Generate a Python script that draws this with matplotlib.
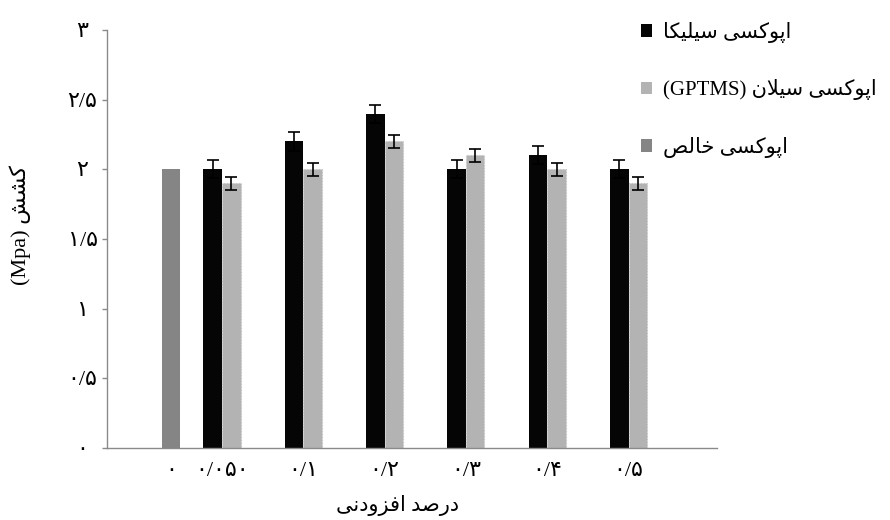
import numpy as np
import matplotlib
matplotlib.use("Agg")
import matplotlib.pyplot as plt
from matplotlib.patches import Patch

# tensile strength (MPa) vs. additive percentage
x_labels = ["۰", "۰/۰۵۰", "۰/۱", "۰/۲", "۰/۳", "۰/۴", "۰/۵"]
pure_value = 2.0
silica = [2.0, 2.2, 2.4, 2.0, 2.1, 2.0]
silica_err = [0.065, 0.065, 0.065, 0.065, 0.065, 0.065]
silane = [1.9, 2.0, 2.2, 2.1, 2.0, 1.9]
silane_err = [0.048, 0.048, 0.048, 0.048, 0.048, 0.048]

y_ticks = [0, 0.5, 1, 1.5, 2, 2.5, 3]
y_ticklabels = ["۰", "۰/۵", "۱", "۱/۵", "۲", "۲/۵", "۳"]

legend_labels = ["اپوکسی سیلیکا", "اپوکسی سیلان (GPTMS)", "اپوکسی خالص"]
COLORS = {"silica": "#050505", "silane": "#b3b3b3", "pure": "#858585"}

# group positions along the x axis (the neat epoxy bar sits close to the first group)
positions = np.array([0.37, 1, 2, 3, 4, 5, 6])
bar_w = 0.228

FAMILY = ["Liberation Serif", "DejaVu Sans"]

# matplotlib does no Arabic shaping, so join letters by hand with presentation forms
FORMS = {
    # isolated, final, initial, medial
    "ا": "\uFE8D\uFE8E",
    "د": "\uFEA9\uFEAA",
    "ر": "\uFEAD\uFEAE",
    "ز": "\uFEAF\uFEB0",
    "و": "\uFEED\uFEEE",
    "پ": "\uFB56\uFB57\uFB58\uFB59",
    "خ": "\uFEA5\uFEA6\uFEA7\uFEA8",
    "س": "\uFEB1\uFEB2\uFEB3\uFEB4",
    "ش": "\uFEB5\uFEB6\uFEB7\uFEB8",
    "ص": "\uFEB9\uFEBA\uFEBB\uFEBC",
    "ف": "\uFED1\uFED2\uFED3\uFED4",
    "ک": "\uFB8E\uFB8F\uFB90\uFB91",
    "ل": "\uFEDD\uFEDE\uFEDF\uFEE0",
    "ن": "\uFEE5\uFEE6\uFEE7\uFEE8",
    "ی": "\uFBFC\uFBFD\uFBFE\uFBFF",
}
LAM_ALEF = "\uFEFB"


def shape_word(word):
    word = word.replace("لا", LAM_ALEF)
    out = []
    for i, ch in enumerate(word):
        prev = word[i - 1] if i else ""
        nxt = word[i + 1] if i + 1 < len(word) else ""
        joins_prev = len(FORMS.get(prev, "")) == 4
        if ch == LAM_ALEF:
            out.append("\uFEFC" if joins_prev else ch)
            continue
        forms = FORMS.get(ch)
        if forms is None:
            out.append(ch)
            continue
        joins_next = len(forms) == 4 and (nxt in FORMS or nxt == LAM_ALEF)
        idx = {(False, False): 0, (True, False): 1, (False, True): 2, (True, True): 3}[(joins_prev, joins_next)]
        out.append(forms[idx])
    return "".join(out)


def rtl(text):
    words = []
    for w in text.split(" "):
        if any(c in FORMS for c in w):
            words.append(shape_word(w)[::-1])
        else:
            words.append(w)
    return " ".join(reversed(words))


fig = plt.figure(figsize=(8.9, 5.2), dpi=100)
ax = fig.add_axes([107 / 890, 72 / 520, 610 / 890, 418 / 520])

err_kw = dict(ecolor="black", elinewidth=1.2, capsize=4, capthick=1.2)
ax.bar(positions[0], pure_value, bar_w, color=COLORS["pure"])
ax.bar(positions[1:] - bar_w / 2, silica, bar_w, yerr=silica_err, color=COLORS["silica"],
       error_kw=err_kw)
ax.bar(positions[1:] + bar_w / 2, silane, bar_w, yerr=silane_err, color=COLORS["silane"],
       edgecolor="#c4c4c4", linewidth=0.8, linestyle=":", error_kw=err_kw)

ax.set_xlim(-0.4145, 7.088)
ax.set_ylim(0, 3)

for s in ["top", "right"]:
    ax.spines[s].set_visible(False)
for s in ["left", "bottom"]:
    ax.spines[s].set_color("#8a8a8a")
    ax.spines[s].set_linewidth(1.0)

ax.set_xticks(positions)
ax.set_xticklabels(x_labels, family=FAMILY, fontsize=16)
ax.tick_params(axis="x", length=0, pad=10)

ax.set_yticks(y_ticks)
ax.set_yticklabels(y_ticklabels, family=FAMILY, fontsize=16)
ax.tick_params(axis="y", length=3.6, width=1.0, color="#8a8a8a", pad=14)
for lbl in ax.get_yticklabels():
    lbl.set_ha("center")

fig.text(20 / 890, 1 - 225 / 520, rtl("کشش (Mpa)"), rotation=90, ha="center", va="center",
         family=FAMILY, fontsize=16)
fig.text(398 / 890, 1 - 506 / 520, rtl("درصد افزودنی"), ha="center", va="center",
         family=FAMILY, fontsize=15)

handles = [Patch(facecolor=COLORS["silica"]), Patch(facecolor=COLORS["silane"]),
           Patch(facecolor=COLORS["pure"])]
fig.legend(handles=handles, labels=[rtl(l) for l in legend_labels],
           loc="upper left", bbox_to_anchor=(641 / 890, 1 - 22 / 520),
           frameon=False, prop={"family": FAMILY, "size": 15},
           handlelength=0.55, handleheight=0.55, handletextpad=0.5,
           labelspacing=1.75, borderpad=0, borderaxespad=0)

fig.savefig("out.png", dpi=100)
